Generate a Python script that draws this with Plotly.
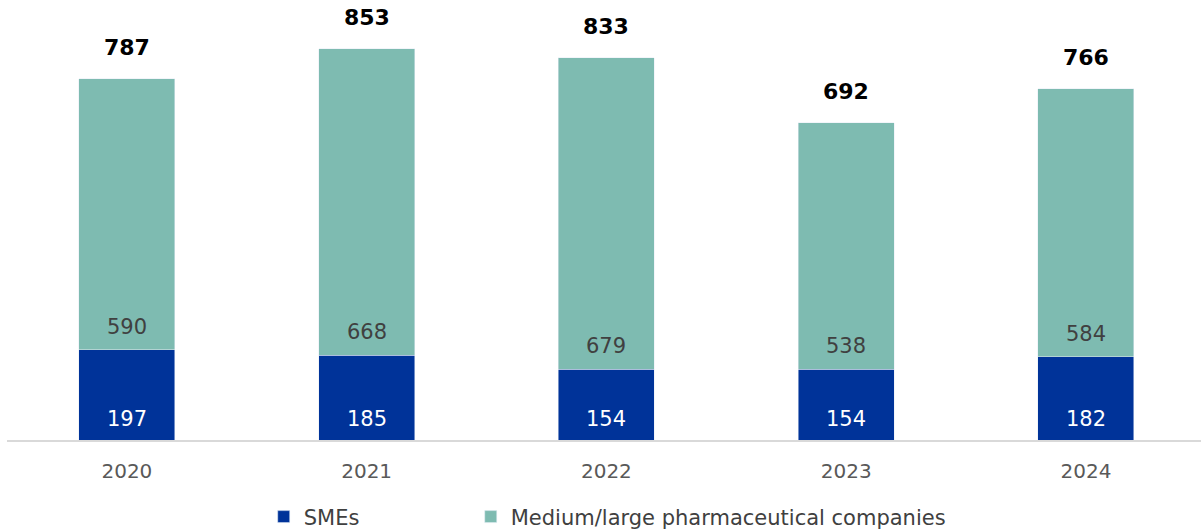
import plotly.graph_objects as go

years = ["2020", "2021", "2022", "2023", "2024"]
smes = [197, 185, 154, 154, 182]
medium_large = [590, 668, 679, 538, 584]
totals = [787, 853, 833, 692, 766]

BLUE = "#003399"
TEAL = "#7EBBB1"
FONT = "DejaVu Sans"

fig = go.Figure()
fig.add_trace(go.Bar(x=years, y=smes, name="SMEs", marker_color=BLUE, width=0.4,
                     legend="legend"))
fig.add_trace(go.Bar(x=years, y=medium_large, name="Medium/large pharmaceutical companies",
                     marker_color=TEAL, width=0.4, legend="legend2"))

for i, (s, m, t) in enumerate(zip(smes, medium_large, totals)):
    fig.add_annotation(x=i, y=0, text=str(s), showarrow=False, yanchor="middle", yshift=21,
                       font=dict(family=FONT, size=21, color="white"))
    fig.add_annotation(x=i, y=s, text=str(m), showarrow=False, yanchor="middle", yshift=23,
                       font=dict(family=FONT, size=21, color="#404040"))
    fig.add_annotation(x=i, y=t, text=f"<b>{t}</b>", showarrow=False, yanchor="middle", yshift=31,
                       font=dict(family=FONT, size=22, color="black"))

legend_style = dict(orientation="h", xanchor="left", y=-0.179, yanchor="middle",
                    font=dict(family=FONT, size=21, color="#404040"))

fig.update_layout(
    width=1201, height=532,
    barmode="stack",
    plot_bgcolor="white", paper_bgcolor="white",
    margin=dict(l=7, r=0, t=10, b=92, autoexpand=False),
    font=dict(family=FONT, size=20, color="#595959"),
    showlegend=True,
    legend=dict(x=0.215, **legend_style),
    legend2=dict(x=0.3884, **legend_style),
)
fig.update_xaxes(type="category", range=[-0.5, 4.48], showline=True, linecolor="#D9D9D9",
                 linewidth=2, ticks="outside", tickcolor="rgba(0,0,0,0)", ticklen=12,
                 tickfont=dict(family=FONT, size=20, color="#595959"), showgrid=False)
fig.update_yaxes(range=[0, 937.4], visible=False, showgrid=False)

fig.write_html("out.html", config={"displayModeBar": False},
               post_script="document.body.style.margin='0px';")
